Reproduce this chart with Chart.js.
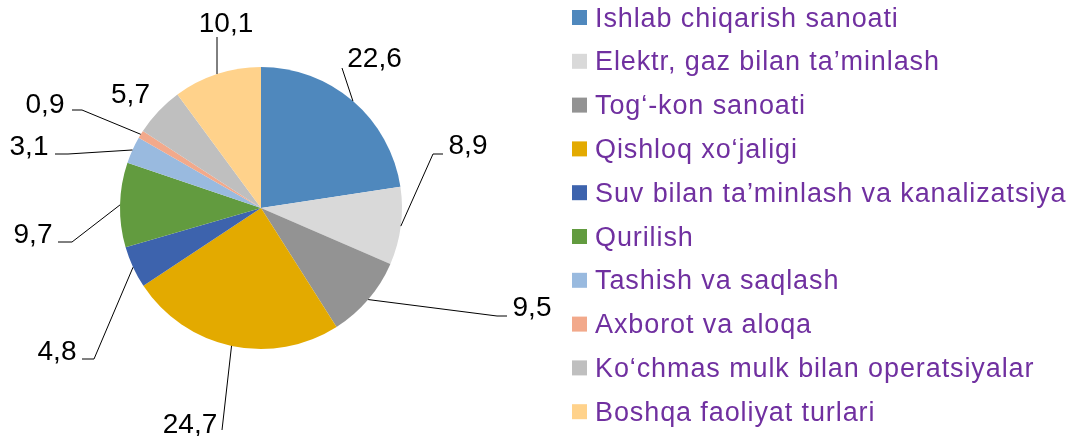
<!DOCTYPE html>
<html>
<head>
<meta charset="utf-8">
<script src="https://cdn.jsdelivr.net/npm/chart.js@4"></script>
<style>
  html, body { margin: 0; padding: 0; background: #fff; }
  #wrap { width: 1076px; height: 436px; position: relative; }
</style>
</head>
<body>
<div id="wrap"><canvas id="c" width="1076" height="436"></canvas></div>
<script>
// ---- data ----
const categories = [
  "Ishlab chiqarish sanoati",
  "Elektr, gaz bilan ta’minlash",
  "Tog‘-kon sanoati",
  "Qishloq xo‘jaligi",
  "Suv bilan ta’minlash va kanalizatsiya",
  "Qurilish",
  "Tashish va saqlash",
  "Axborot va aloqa",
  "Ko‘chmas mulk bilan operatsiyalar",
  "Boshqa faoliyat turlari"
];
const values = [22.6, 8.9, 9.5, 24.7, 4.8, 9.7, 3.1, 0.9, 5.7, 10.1];
const valueLabels = ["22,6", "8,9", "9,5", "24,7", "4,8", "9,7", "3,1", "0,9", "5,7", "10,1"];

// ---- styles / layout ----
const colors = ["#4F88BD", "#D9D9D9", "#939393", "#E3AA00", "#3D63AD",
                "#629B3F", "#99BADF", "#F2A98B", "#BFBFBF", "#FFD28B"];
// label text centre-x / baseline-y and leader elbow points (after arc anchor)
const labelLayout = [
  { tx: 374.5, ty: 67,  leader: [[342, 68]] },
  { tx: 468,   ty: 154, leader: [[433, 154], [443, 154]] },
  { tx: 532,   ty: 316, leader: [[497, 316], [507, 316]] },
  { tx: 190,   ty: 433, leader: [[222, 430]] },
  { tx: 57,    ty: 360, leader: [[94, 359], [82, 359]] },
  { tx: 33,    ty: 243, leader: [[72, 242], [58, 242]] },
  { tx: 29,    ty: 155, leader: [[68, 154], [55, 154]] },
  { tx: 45,    ty: 113, leader: [[82, 110], [72, 110]] },
  { tx: 130.5, ty: 103, leader: null },
  { tx: 226,   ty: 32,  leader: [[217, 37]] }
];
const LABEL_FONT = '28px "Liberation Sans", Arial, sans-serif';
const LEGEND_FONT = '27px "Liberation Sans", Arial, sans-serif';
const LEGEND_COLOR = '#7030A0';

const labelPlugin = {
  id: 'pieLabels',
  afterDatasetsDraw(chart) {
    const ctx = chart.ctx;
    const meta = chart.getDatasetMeta(0);
    ctx.save();
    meta.data.forEach((arc, i) => {
      const p = arc.getProps(['x', 'y', 'startAngle', 'endAngle', 'outerRadius'], true);
      const mid = (p.startAngle + p.endAngle) / 2;
      const ax = p.x + Math.cos(mid) * p.outerRadius;
      const ay = p.y + Math.sin(mid) * p.outerRadius;
      const L = labelLayout[i];
      if (L.leader) {
        ctx.beginPath();
        ctx.strokeStyle = '#000';
        ctx.lineWidth = 1;
        ctx.moveTo(ax, ay);
        L.leader.forEach(pt => ctx.lineTo(pt[0], pt[1]));
        ctx.stroke();
      }
      ctx.fillStyle = '#000';
      ctx.font = LABEL_FONT;
      ctx.textAlign = 'center';
      ctx.textBaseline = 'alphabetic';
      ctx.fillText(valueLabels[i], L.tx, L.ty);
    });
    ctx.restore();
  }
};

const legendPlugin = {
  id: 'sideLegend',
  afterDraw(chart) {
    const ctx = chart.ctx;
    ctx.save();
    const x0 = 572, y0 = 17.5, step = 43.8, box = 15;
    chart.data.labels.forEach((lab, i) => {
      const cy = y0 + i * step;
      ctx.fillStyle = chart.data.datasets[0].backgroundColor[i];
      ctx.fillRect(x0, cy - box / 2, box, box);
      ctx.fillStyle = LEGEND_COLOR;
      ctx.font = LEGEND_FONT;
      if ('letterSpacing' in ctx) ctx.letterSpacing = '0.9px';
      ctx.textAlign = 'left';
      ctx.textBaseline = 'alphabetic';
      ctx.fillText(lab, 595, cy + 9);
    });
    ctx.restore();
  }
};

new Chart(document.getElementById('c'), {
  type: 'pie',
  data: {
    labels: categories,
    datasets: [{
      data: values,
      backgroundColor: colors,
      borderWidth: 0
    }]
  },
  options: {
    responsive: false,
    animation: false,
    layout: { padding: { left: 120, right: 674, top: 67, bottom: 87 } },
    plugins: {
      legend: { display: false },
      tooltip: { enabled: false }
    }
  },
  plugins: [labelPlugin, legendPlugin]
});
</script>
</body>
</html>
